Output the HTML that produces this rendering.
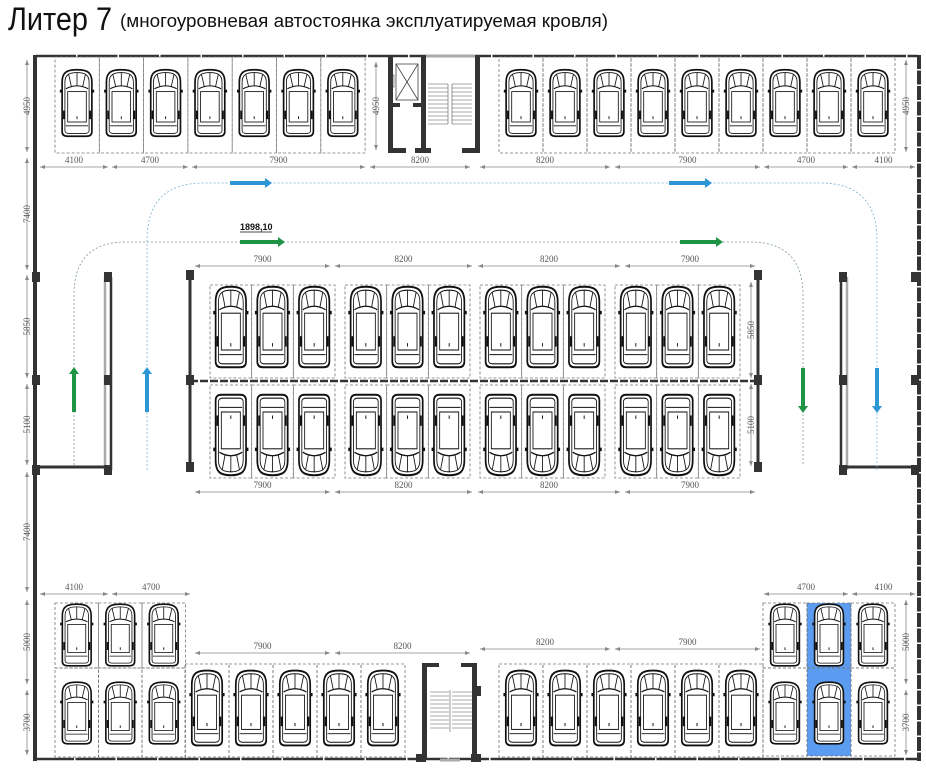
<!DOCTYPE html>
<html><head><meta charset="utf-8">
<style>
html,body{margin:0;padding:0;background:#fff;}
svg{display:block;}
</style></head>
<body>
<svg id="s" width="926" height="768" viewBox="0 0 926 768" xmlns="http://www.w3.org/2000/svg">
<defs>
<symbol id="car" viewBox="-18 -36 36 72" overflow="visible">
 <path d="M-16,-22 C-16,-33 -10,-35 0,-35 C10,-35 16,-33 16,-22 L16,30 C16,34 13,35 10,35 L-10,35 C-13,35 -16,34 -16,30 Z" fill="#fff" stroke="#111" stroke-width="1.8"/>
 <path d="M-13,-22 C-13,-30 -8,-32 0,-32 C8,-32 13,-30 13,-22 L13,29 C13,31 11,32 9,32 L-9,32 C-11,32 -13,31 -13,29 Z" fill="none" stroke="#111" stroke-width="0.9"/>
 <path d="M-12,-15 Q0,-21 12,-15" fill="none" stroke="#111" stroke-width="1.1"/>
 <line x1="-9" y1="-30" x2="-6" y2="-17" stroke="#111" stroke-width="0.9"/>
 <line x1="0" y1="-32" x2="0" y2="-18" stroke="#111" stroke-width="0.9"/>
 <line x1="9" y1="-30" x2="6" y2="-17" stroke="#111" stroke-width="0.9"/>
 <rect x="-10" y="-12" width="20" height="32" fill="none" stroke="#111" stroke-width="0.9"/>
 <line x1="-12" y1="24" x2="12" y2="24" stroke="#111" stroke-width="0.9"/>
 <line x1="0" y1="14" x2="0" y2="17" stroke="#111" stroke-width="1"/>
 <rect x="-18.5" y="-14" width="3" height="3" fill="#111"/>
 <rect x="15.5" y="-14" width="3" height="3" fill="#111"/>
 <rect x="-15" y="8" width="2" height="9" fill="#111"/>
 <rect x="13" y="8" width="2" height="9" fill="#111"/>
</symbol>
</defs>
<text x="8" y="30" font-family="'Liberation Sans Narrow','Liberation Sans',sans-serif" font-size="32" textLength="104" lengthAdjust="spacingAndGlyphs" fill="#111">Литер 7</text>
<text x="120" y="27" font-family="'Liberation Sans Narrow','Liberation Sans',sans-serif" font-size="18" textLength="488" lengthAdjust="spacingAndGlyphs" fill="#111">(многоуровневая автостоянка эксплуатируемая кровля)</text>
<g id="g"></g>
</svg>
<script>
const NS="http://www.w3.org/2000/svg";
const G=document.getElementById('g');
function el(t,a,txt){const e=document.createElementNS(NS,t);for(const k in a)e.setAttribute(k,a[k]);if(txt!==undefined)e.textContent=txt;G.appendChild(e);return e;}
function R(x,y,w,h,f){el('rect',{x,y,width:w,height:h,fill:f});}
function L(x1,y1,x2,y2,c,w,d){const a={x1,y1,x2,y2,stroke:c,'stroke-width':w};if(d)a['stroke-dasharray']=d;el('line',a);}
function box(x,y,w,h){el('rect',{x,y,width:w,height:h,fill:'none',stroke:'#777','stroke-width':0.8,'stroke-dasharray':'3,2'});}
function car(cx,cy,sx,sy,flip){el('use',{href:'#car',x:-18,y:-36,width:36,height:72,transform:`translate(${cx},${cy}) scale(${sx},${flip?-sy:sy})`});}
function T(x,y,s,sz,rot,col){const a={x,y,'font-family':'Liberation Serif,serif','font-size':sz||9,fill:col||'#555','text-anchor':'middle'};if(rot)a.transform=`rotate(-90 ${x} ${y})`;el('text',a,s);}
function hdim(x1,x2,y,lab){L(x1,y,x2,y,'#888',0.8);el('path',{d:`M${x1},${y} l5,-2 v4z M${x2},${y} l-5,-2 v4z`,fill:'#888'});T((x1+x2)/2,y-4,lab);}
function vdim(x,y1,y2,lab){L(x,y1,x,y2,'#888',0.8);el('path',{d:`M${x},${y1} l-2,5 h4z M${x},${y2} l-2,-5 h4z`,fill:'#888'});T(x+3,(y1+y2)/2,lab,9,true);}
function post(x,y){R(x-4,y-5,8,10,'#333');}
function arrow(x1,y1,x2,y2,c){
 const dx=x2-x1,dy=y2-y1,l=Math.hypot(dx,dy),ux=dx/l,uy=dy/l;
 const bx=x2-ux*7,by=y2-uy*7;
 L(x1,y1,bx,by,c,4);
 el('path',{d:`M${x2},${y2} L${bx-uy*5},${by+ux*5} L${bx+uy*5},${by-ux*5}Z`,fill:c});
}
const GR='#1e9444',BL='#2c97d4';
R(807,603,44,153,'#5b9cf0');
R(33,55,4,706,'#333');
L(36,56,918,56,'#333',2.5,'40 1.5');
L(919,55,919,761,'#333',4,'14 1.5');
L(34,759,919,759,'#333',2.5,'40 1.5');
for(let i=0;i<7;i++){box(55+i*44.3,57,44.3,96);car(77+i*44.3,103,0.93,0.95);}
for(let i=0;i<9;i++){box(499+i*44,57,44,96);car(521+i*44,103,0.93,0.95);}
hdim(40,108,167,'4100');hdim(112,188,167,'4700');hdim(192,365,167,'7900');hdim(370,470,167,'8200');
hdim(480,610,167,'8200');hdim(615,760,167,'7900');hdim(764,848,167,'4700');hdim(852,915,167,'4100');
R(388,55,5,97,'#333');R(421,55,5,97,'#333');R(475,55,5,97,'#333');
R(388,148,18,5,'#333');R(415,148,16,5,'#333');R(462,148,18,5,'#333');R(388,103,12,4,'#333');R(413,103,12,4,'#333');
L(426,56,475,56,'#aaa',3);
el('rect',{x:396,y:64,width:22,height:36,fill:'none',stroke:'#444','stroke-width':0.8});
L(396,64,418,100,'#444',0.8);L(418,64,396,100,'#444',0.8);
el('rect',{x:392,y:75,width:2,height:12,fill:'none',stroke:'#444','stroke-width':0.6});
for(let y=84;y<=124;y+=4){L(428,y,448,y,'#555',0.6);L(452,y,472,y,'#555',0.6);}
L(448,84,448,124,'#555',0.6);L(452,84,452,124,'#555',0.6);
vdim(376,62,150,'4950');
vdim(27,60,152,'4950');vdim(27,158,270,'7400');vdim(27,275,378,'5850');vdim(27,384,465,'5100');vdim(27,472,592,'7400');vdim(27,600,684,'5000');vdim(27,690,755,'3700');
vdim(906,60,152,'4950');vdim(906,600,684,'5000');vdim(906,690,755,'3700');
L(190,275,190,470,'#333',3);L(758,275,758,470,'#333',3);
L(190,381,758,381,'#333',2.5,'8 2');
[275,380,467].forEach(y=>{post(190,y);post(758,y);});
const gx=[210,345,480,615],gw=[125,125,125,125];
for(let g=0;g<4;g++){for(let i=0;i<3;i++){const w=gw[g]/3,x=gx[g]+i*w;box(x,285,w,93);box(x,385,w,93);car(x+w/2,327,0.95,1.15);car(x+w/2,435,0.95,1.15,true);}}
hdim(195,330,266,'7900');hdim(335,472,266,'8200');hdim(478,620,266,'8200');hdim(625,755,266,'7900');
hdim(195,330,492,'7900');hdim(335,472,492,'8200');hdim(478,620,492,'8200');hdim(625,755,492,'7900');
vdim(751,282,378,'5850');vdim(751,384,466,'5100');
L(105,277,105,470,'#aaa',2.5);L(111,277,111,470,'#333',2.5);L(36,467,111,467,'#333',3);
[277,380,470].forEach(y=>{post(36,y);post(108,y);});
L(841,277,841,470,'#333',2.5);L(847,277,847,470,'#aaa',2.5);L(841,467,917,467,'#333',3);
[277,380,470].forEach(y=>{post(843,y);post(915,y);});
el('path',{d:'M74,465 L74,295 Q74,242 126,242 L750,242 Q803,242 803,295 L803,465',fill:'none',stroke:'#7a9a8a','stroke-width':0.8,'stroke-dasharray':'2,2'});
el('path',{d:'M147,470 L147,240 Q147,183 204,183 L820,183 Q877,183 877,240 L877,470',fill:'none',stroke:'#7ab0d0','stroke-width':0.8,'stroke-dasharray':'2,2'});
arrow(240,242,285,242,GR);arrow(680,242,723,242,GR);
arrow(230,183,272,183,BL);arrow(669,183,712,183,BL);
arrow(74,412,74,367,GR);arrow(147,412,147,367,BL);
arrow(803,368,803,413,GR);arrow(877,368,877,413,BL);
el('text',{x:240,y:230,'font-family':'Liberation Sans,sans-serif','font-size':9,'font-weight':'bold',fill:'#111'},'1898,10');
L(240,232,272,232,'#111',0.8);
for(let i=0;i<3;i++){const x=55+i*43.5;box(x,603,43.5,65);box(x,668,43.5,89);car(x+21.75,635,0.9,0.88);car(x+21.75,713,0.9,0.88);}
hdim(40,108,594,'4100');hdim(112,190,594,'4700');
for(let i=0;i<5;i++){const x=185+i*44;box(x,664,44,93);car(x+22,708,0.95,1.07);}
hdim(195,330,653,'7900');hdim(335,470,653,'8200');
R(422,663,5,97,'#333');R(472,663,5,97,'#333');R(422,663,17,4,'#333');R(461,663,16,4,'#333');R(475,686,6,10,'#333');
L(440,760,460,760,'#aaa',3);R(416,754,10,8,'#333');R(471,754,10,8,'#333');
for(let y=692;y<=730;y+=4){L(430,y,449,y,'#555',0.6);L(452,y,472,y,'#555',0.6);}
L(450,690,450,732,'#555',0.6);
for(let i=0;i<6;i++){const x=499+i*44;box(x,664,44,93);car(x+22,708,0.95,1.07);}
hdim(480,610,649,'8200');hdim(615,760,649,'7900');
for(let i=0;i<3;i++){const x=763+i*44;box(x,603,44,65);box(x,668,44,88);car(x+22,635,0.9,0.88);car(x+22,713,0.9,0.88);}
hdim(764,848,594,'4700');hdim(852,915,594,'4100');
</script>
</body></html>
